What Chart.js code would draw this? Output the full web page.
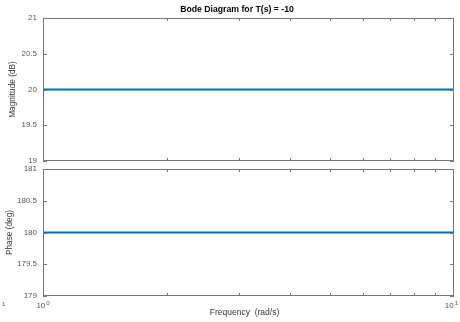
<!DOCTYPE html>
<html>
<head>
<meta charset="utf-8">
<script src="https://cdn.jsdelivr.net/npm/chart.js@4"></script>
<style>
    html, body { margin: 0; padding: 0; background: #fff; }
    #wrap { position: relative; width: 460px; height: 322px; overflow: hidden; }
    #magChart { position: absolute; left: 0; top: 0; }
    #phaseChart { position: absolute; left: 0; top: 162px; }
</style>
</head>
<body>
<div id="wrap">
    <canvas id="magChart" width="460" height="166"></canvas>
    <canvas id="phaseChart" width="460" height="160"></canvas>
</div>
<script>
// T(s) = -10 : flat gain, constant phase
const frequencies = [1, 2, 5, 10];          // rad/s
const magnitudeDb = [20, 20, 20, 20];       // dB
const phaseDeg = [180, 180, 180, 180];      // deg

const magTicks = [19, 19.5, 20, 20.5, 21];
const phaseTicks = [179, 179.5, 180, 180.5, 181];
const decadeTicks = [1, 10];
const minorTicks = [2, 3, 4, 5, 6, 7, 8, 9];

const FONT = "'Liberation Sans', Arial, Helvetica, sans-serif";
const lineBlue = '#0072bd';
const frameColor = '#777777';
const tickTextColor = '#555555';

// box around the plot area with inward ticks on all four sides
const framePlugin = {
    id: 'bodeFrame',
    afterDraw(chart) {
        const { ctx, chartArea: a, scales: { x, y } } = chart;
        ctx.save();
        ctx.strokeStyle = frameColor;
        ctx.lineWidth = 1;
        ctx.strokeRect(a.left + 0.5, a.top + 0.5, a.width - 1, a.height - 1);

        ctx.beginPath();
        minorTicks.forEach(f => {
            const px = Math.round(x.getPixelForValue(f)) + 0.5;
            ctx.moveTo(px, a.top);
            ctx.lineTo(px, a.top + 3);
            ctx.moveTo(px, a.bottom);
            ctx.lineTo(px, a.bottom - 3);
        });
        y.ticks.forEach(t => {
            const py = Math.round(y.getPixelForValue(t.value)) + 0.5;
            ctx.moveTo(a.left, py);
            ctx.lineTo(a.left + 4, py);
            ctx.moveTo(a.right, py);
            ctx.lineTo(a.right - 4, py);
        });
        ctx.stroke();
        ctx.restore();
    }
};

// title above the magnitude plot
const titlePlugin = {
    id: 'bodeTitle',
    afterDraw(chart) {
        const { ctx, chartArea: a } = chart;
        ctx.save();
        ctx.fillStyle = '#000';
        ctx.font = 'bold 8.7px ' + FONT;
        ctx.textAlign = 'center';
        ctx.textBaseline = 'middle';
        ctx.fillText('Bode Diagram for T(s) = -10', (a.left + a.right) / 2 - 11.5, 10);
        ctx.restore();
    }
};

// decade labels 10^n and the frequency axis title
const freqAxisPlugin = {
    id: 'freqAxis',
    afterDraw(chart) {
        const { ctx, chartArea: a, scales: { x } } = chart;
        ctx.save();
        ctx.fillStyle = tickTextColor;
        ctx.textBaseline = 'middle';
        ctx.textAlign = 'left';
        decadeTicks.forEach(f => {
            const px = x.getPixelForValue(f);
            const base = '10';
            const exp = String(Math.round(Math.log10(f)));
            ctx.font = '8px ' + FONT;
            const wb = ctx.measureText(base).width;
            ctx.font = '6px ' + FONT;
            const we = ctx.measureText(exp).width + 1;
            let start = px - (wb + we) / 2;
            start = Math.min(start, chart.width - 2 - (wb + we));
            ctx.font = '8px ' + FONT;
            ctx.fillText(base, start, a.bottom + 10);
            ctx.font = '6px ' + FONT;
            ctx.fillText(exp, start + wb + 1, a.bottom + 7);
        });
        ctx.font = '6px ' + FONT;
        ctx.fillText('1', 2, a.bottom + 8);

        ctx.fillStyle = '#333';
        ctx.font = '8.5px ' + FONT;
        ctx.textAlign = 'center';
        ctx.fillText('Frequency  (rad/s)', (a.left + a.right) / 2 - 4, a.bottom + 17);
        ctx.restore();
    }
};

function makeYScale(ticks, label, titlePad) {
    return {
        type: 'linear',
        min: ticks[0],
        max: ticks[ticks.length - 1],
        afterBuildTicks: scale => { scale.ticks = ticks.map(v => ({ value: v })); },
        afterFit: scale => {
            // fixed axis width, and no extra room for the end labels
            scale.width = 43;
            scale.paddingTop = 0;
            scale.paddingBottom = 0;
        },
        grid: { display: false, drawTicks: false },
        border: { display: false },
        ticks: {
            padding: 6,
            color: tickTextColor,
            font: { family: FONT, size: 8 },
            callback: v => String(v)
        },
        title: {
            display: true,
            text: label,
            color: '#333',
            font: { family: FONT, size: 8.3 },
            padding: { top: titlePad, bottom: 0 }
        }
    };
}

function makeBodeChart(canvasId, values, ticks, label, titlePad, padding, extraPlugins) {
    const ctx = document.getElementById(canvasId).getContext('2d');
    return new Chart(ctx, {
        type: 'line',
        data: {
            labels: frequencies,
            datasets: [{
                data: frequencies.map((f, i) => ({ x: f, y: values[i] })),
                borderColor: lineBlue,
                borderWidth: 2,
                pointRadius: 0,
                tension: 0,
                fill: false
            }]
        },
        options: {
            responsive: false,
            animation: false,
            devicePixelRatio: 1,
            layout: { padding: padding },
            plugins: {
                legend: { display: false },
                tooltip: { enabled: false },
                title: { display: false }
            },
            scales: {
                x: {
                    type: 'logarithmic',
                    min: 1,
                    max: 10,
                    display: false
                },
                y: makeYScale(ticks, label, titlePad)
            }
        },
        plugins: [framePlugin].concat(extraPlugins)
    });
}

makeBodeChart('magChart', magnitudeDb, magTicks, 'Magnitude (dB)', 8,
    { top: 18, right: 6, bottom: 5, left: 0 }, [titlePlugin]);
makeBodeChart('phaseChart', phaseDeg, phaseTicks, 'Phase (deg)', 5,
    { top: 7, right: 6, bottom: 26, left: 0 }, [freqAxisPlugin]);
</script>
</body>
</html>
